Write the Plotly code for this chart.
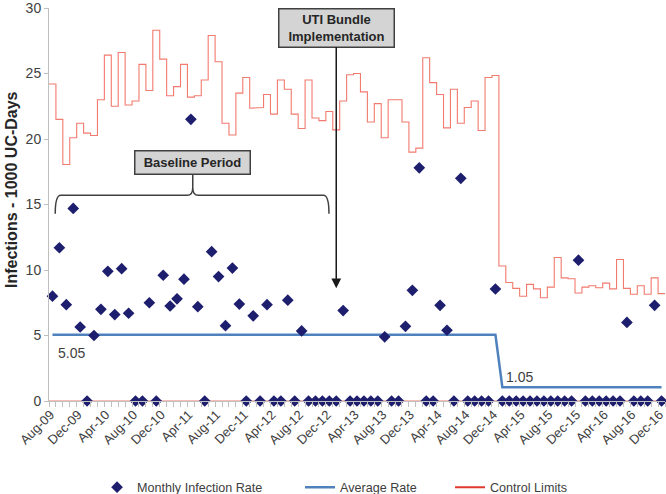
import plotly.graph_objects as go
import pandas as pd

# ---------------- data ----------------
months = list(pd.date_range("2009-08-01", periods=89, freq="MS").strftime("%b-%y"))

infection_rate = [
    8.0, 11.7, 7.35, 14.7, 5.65, 0, 5.0, 7.0, 9.9, 6.6,
    10.1, 6.7, 0, 0, 7.5, 0, 9.6, 7.25, 7.8, 9.3,
    21.5, 7.2, 0, 11.4, 9.5, 5.75, 10.15, 7.4, 0, 6.5,
    0, 7.35, 0, 0, 7.7, 0, 5.35, 0, 0, 0,
    0, 0, 6.9, 0, 0, 0, 0, 0, 4.9, 0,
    0, 5.7, 8.45, 17.8, 0, 0, 7.3, 5.4, 0, 17.0,
    0, 0, 0, 0, 8.55, 0, 0, 0, 0, 0,
    0, 0, 0, 0, 0, 0, 10.75, 0, 0, 0,
    0, 0, 0, 6.0, 0, 0, 0, 7.3, 0,
]

upper_control_limit = [
    24.2, 21.5, 18.05, 20.1, 21.2, 20.45, 20.27, 23.0, 26.4, 22.5,
    26.6, 22.6, 22.9, 25.7, 23.7, 28.3, 26.1, 23.3, 24.0, 25.7,
    23.2, 23.3, 24.5, 27.9, 25.9, 21.2, 20.3, 23.5, 24.7, 22.35,
    22.4, 23.4, 21.9, 24.5, 23.8, 21.9, 20.8, 24.5, 21.6, 21.4,
    22.1, 20.7, 22.9, 24.9, 25.0, 23.6, 21.3, 22.7, 20.1, 23.0,
    23.0, 21.3, 19.0, 19.3, 26.2, 24.3, 23.4, 20.85, 23.8, 21.2,
    22.4, 22.9, 20.65, 24.7, 24.85, 10.3, 9.05, 8.6, 8.0, 8.9,
    8.56, 7.88, 8.69, 10.95, 9.4, 9.33, 8.25, 8.69, 8.8, 8.65,
    9.0, 8.56, 10.8, 8.6, 8.15, 8.8, 8.15, 9.4, 8.2,
]

lower_control_limit = [0.0] * 89

baseline_average = 5.05
post_average = 1.05
last_baseline_month = "Dec-14"

tick_labels = months[::4]

# ---------------- derived ----------------
idx = list(range(len(months)))
split = months.index(last_baseline_month)
average_rate = [baseline_average if i <= split else post_average for i in idx]


def steps(vals):
    xs, ys = [], []
    for i, v in enumerate(vals):
        xs += [i - 0.5, i + 0.5]
        ys += [v, v]
    return xs, ys


FONT = "Liberation Sans, Arial, sans-serif"
RED = "#F27A6E"
NAVY = "#1E1E6E"
BLUE = "#4F81BD"
GRAY = "#BFBFBF"
LEGEND_FONT = dict(family=FONT, size=12.6, color="#404040")

fig = go.Figure()

ux, uy = steps(upper_control_limit)
lx, ly = steps(lower_control_limit)
fig.add_trace(go.Scatter(x=ux, y=uy, mode="lines", line=dict(color=RED, width=1.1),
                         showlegend=False, hoverinfo="skip"))
fig.add_trace(go.Scatter(x=lx, y=ly, mode="lines", line=dict(color=RED, width=1.1),
                         showlegend=False, hoverinfo="skip", cliponaxis=False))
fig.add_trace(go.Scatter(x=idx, y=average_rate, mode="lines", name="Average Rate",
                         line=dict(color=BLUE, width=2.5), legend="legend2"))
fig.add_trace(go.Scatter(x=idx, y=infection_rate, mode="markers", name="Monthly Infection Rate",
                         marker=dict(symbol="diamond", size=9, color=NAVY),
                         cliponaxis=False, legend="legend"))
fig.add_trace(go.Scatter(x=[None], y=[None], mode="lines", name="Control Limits",
                         line=dict(color="#E0392E", width=2), legend="legend3"))

# brace over baseline period
x0, x1, xc = 0.4, 39.95, 20.27
yH, yE, yM, yT = 15.7, 14.3, 16.3, 17.3
d = 0.8
brace = (f"M {x0},{yE} Q {x0},{yH} {x0 + d},{yH} L {xc - d},{yH} "
         f"Q {xc},{yH} {xc},{yM} L {xc},{yT} M {xc},{yM} "
         f"Q {xc},{yH} {xc + d},{yH} L {x1 - d},{yH} Q {x1},{yH} {x1},{yE}")
fig.add_shape(type="path", path=brace, xref="x", yref="y",
              line=dict(color="#404040", width=1.5))

annotations = [
    dict(x=20.27, y=18.2, xref="x", yref="y", text="<b>Baseline Period</b>", showarrow=False,
         font=dict(family=FONT, size=13, color="#262626"), bgcolor="#D4D4D4",
         bordercolor="#404040", borderwidth=1.5, borderpad=1, width=112, height=20),
    dict(x=41, y=8.6, xref="x", yref="y", ax=41, ay=28.5, axref="x", ayref="y",
         text="<b>UTI Bundle<br>Implementation</b>", showarrow=True,
         arrowhead=2, arrowsize=1.3, arrowwidth=1.5, arrowcolor="#1A1A1A",
         font=dict(family=FONT, size=13, color="#262626"), bgcolor="#D4D4D4",
         bordercolor="#404040", borderwidth=1.5, borderpad=1, width=112, height=35),
    dict(x=2.77, y=3.63, xref="x", yref="y", text=f"{baseline_average:.2f}", showarrow=False,
         font=dict(family=FONT, size=14, color="#404040")),
    dict(x=67.5, y=1.87, xref="x", yref="y", text=f"{post_average:.2f}", showarrow=False,
         font=dict(family=FONT, size=14, color="#404040")),
    dict(x=-0.060, y=0.537, xref="paper", yref="paper", xanchor="center", yanchor="middle",
         text="<b>Infections - 1000 UC-Days</b>",
         textangle=-90, showarrow=False, font=dict(family=FONT, size=16, color="#262626")),
]

legend_common = dict(orientation="h", y=-0.22, yanchor="middle", xanchor="left",
                     font=LEGEND_FONT, bgcolor="rgba(0,0,0,0)", borderwidth=0)

fig.update_layout(
    width=666, height=494,
    margin=dict(l=49, r=1, t=8, b=93, autoexpand=False),
    paper_bgcolor="white", plot_bgcolor="white",
    font=dict(family=FONT, size=13, color="#404040"),
    annotations=annotations,
    showlegend=True,
    legend=dict(x=0.078, **legend_common),
    legend2=dict(x=0.4075, **legend_common),
    legend3=dict(x=0.651, **legend_common),
    xaxis=dict(range=[-0.5, 88.5], showgrid=False, zeroline=False, showline=True,
               linecolor=GRAY, linewidth=1, automargin=False, ticklabeloverflow="allow",
               ticklabelshift=-2,
               tickmode="array", tickvals=idx[::4], ticktext=tick_labels,
               ticks="", tickangle=-45, tickfont=dict(family=FONT, size=13, color="#404040"),
               minor=dict(ticks="outside", ticklen=5, tickcolor=GRAY, tickmode="linear",
                          tick0=-0.5, dtick=1, showgrid=False)),
    yaxis=dict(range=[0, 30], showgrid=False, zeroline=False, showline=True,
               linecolor=GRAY, linewidth=1, automargin=False, ticklabeloverflow="allow",
               tickmode="linear", tick0=0, dtick=5,
               ticks="outside", ticklen=4, tickcolor=GRAY,
               tickfont=dict(family=FONT, size=14, color="#404040")),
)

fig.write_html("out.html", config={"displayModeBar": False},
               post_script="document.body.style.margin='0';document.body.style.overflow='hidden';")
